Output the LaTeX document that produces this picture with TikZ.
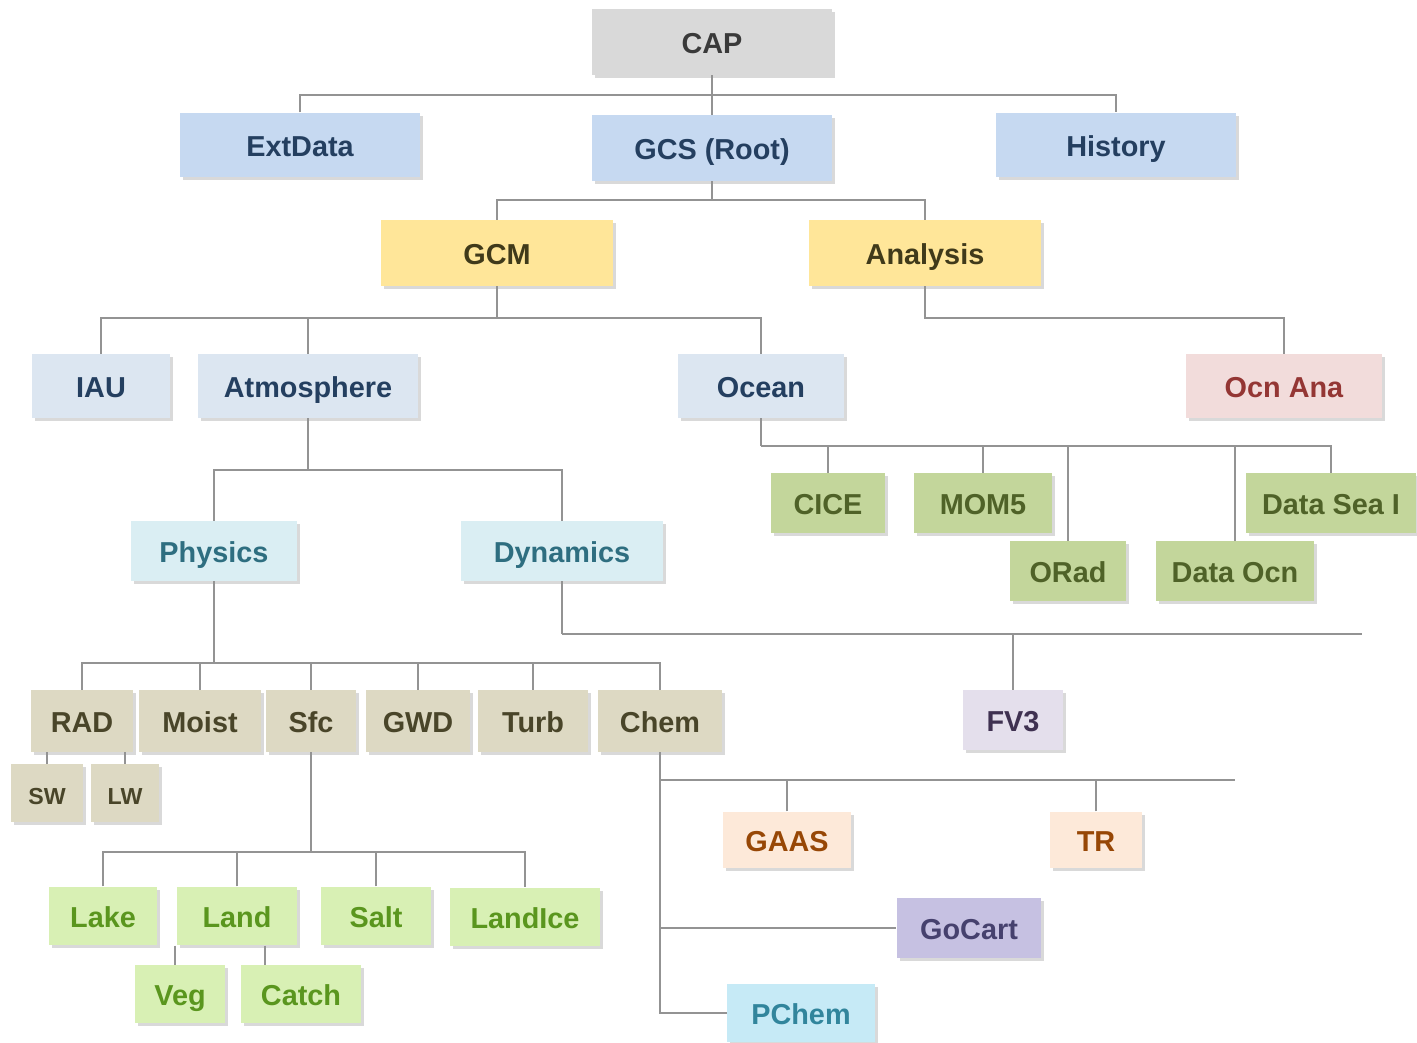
\documentclass[tikz,border=0pt]{standalone}
\usepackage{fontspec}
\setmainfont{Liberation Sans}
\usetikzlibrary{shadows}

\definecolor{capfill}{HTML}{D9D9D9}   \definecolor{captext}{HTML}{3A3A3A}
\definecolor{rootfill}{HTML}{C6D9F1}  \definecolor{roottext}{HTML}{243F60}
\definecolor{gcmfill}{HTML}{FFE699}   \definecolor{gcmtext}{HTML}{403A1A}
\definecolor{compfill}{HTML}{DCE6F1}  \definecolor{comptext}{HTML}{243F60}
\definecolor{anafill}{HTML}{F2DCDB}   \definecolor{anatext}{HTML}{943634}
\definecolor{physfill}{HTML}{DAEEF3}  \definecolor{phystext}{HTML}{2E6E80}
\definecolor{ocnfill}{HTML}{C3D69B}   \definecolor{ocntext}{HTML}{4F6228}
\definecolor{dynfill}{HTML}{E4DFEC}   \definecolor{dyntext}{HTML}{3F3151}
\definecolor{parfill}{HTML}{DDD9C3}   \definecolor{partext}{HTML}{494529}
\definecolor{sfcfill}{HTML}{D8F0B4}   \definecolor{sfctext}{HTML}{5A961E}
\definecolor{chemfill}{HTML}{FDE9D9}  \definecolor{chemtext}{HTML}{974706}
\definecolor{gocfill}{HTML}{C6C1E2}   \definecolor{goctext}{HTML}{46416E}
\definecolor{pchfill}{HTML}{C6EAF6}   \definecolor{pchtext}{HTML}{31859C}

\begin{document}
\begin{tikzpicture}[x=0.01cm, y=-0.01cm,
		box/.style={rectangle, inner sep=0pt, font=\fontsize{8.2}{10}\selectfont\bfseries,
			text height=1.65ex, text depth=0.45ex,
			drop shadow={shadow xshift=0.03cm, shadow yshift=-0.03cm, opacity=0.3}},
		link/.style={draw=gray!85, line width=0.5pt}]

	\useasboundingbox (0,0) rectangle (1417,1043);

	% ===== top level =====
	\node[box, fill=capfill, text=captext, minimum width=2.4cm, minimum height=0.65cm] (cap) at (712,42) {CAP};
	\node[box, fill=rootfill, text=roottext, minimum width=2.4cm, minimum height=0.64cm] (ext) at (300,145) {ExtData};
	\node[box, fill=rootfill, text=roottext, minimum width=2.4cm, minimum height=0.65cm] (gcs) at (712,148) {GCS (Root)};
	\node[box, fill=rootfill, text=roottext, minimum width=2.4cm, minimum height=0.64cm] (hist) at (1116,145) {History};

	\node[box, fill=gcmfill, text=gcmtext, minimum width=2.32cm, minimum height=0.65cm] (gcm) at (497,253) {GCM};
	\node[box, fill=gcmfill, text=gcmtext, minimum width=2.32cm, minimum height=0.65cm] (ana) at (925,253) {Analysis};

	% ===== components =====
	\node[box, fill=compfill, text=comptext, minimum width=1.38cm, minimum height=0.63cm] (iau) at (101,386) {IAU};
	\node[box, fill=compfill, text=comptext, minimum width=2.19cm, minimum height=0.63cm] (atm) at (308,386) {Atmosphere};
	\node[box, fill=compfill, text=comptext, minimum width=1.66cm, minimum height=0.63cm] (ocn) at (761,386) {Ocean};
	\node[box, fill=anafill, text=anatext, minimum width=1.95cm, minimum height=0.63cm] (ocnana) at (1284,386) {Ocn Ana};

	\node[box, fill=physfill, text=phystext, minimum width=1.65cm, minimum height=0.59cm] (phys) at (214,551) {Physics};
	\node[box, fill=physfill, text=phystext, minimum width=2.01cm, minimum height=0.59cm] (dyn) at (562,551) {Dynamics};

	% ===== ocean children =====
	\node[box, fill=ocnfill, text=ocntext, minimum width=1.13cm, minimum height=0.59cm] (cice) at (828,503) {CICE};
	\node[box, fill=ocnfill, text=ocntext, minimum width=1.37cm, minimum height=0.59cm] (mom) at (983,503) {MOM5};
	\node[box, fill=ocnfill, text=ocntext, minimum width=1.15cm, minimum height=0.59cm] (orad) at (1068,571) {ORad};
	\node[box, fill=ocnfill, text=ocntext, minimum width=1.57cm, minimum height=0.59cm] (docn) at (1235,571) {Data Ocn};
	\node[box, fill=ocnfill, text=ocntext, minimum width=1.69cm, minimum height=0.59cm] (dsea) at (1331,503) {Data Sea I};

	\node[box, fill=dynfill, text=dyntext, minimum width=1.0cm, minimum height=0.59cm] (fv3) at (1013,720) {FV3};

	% ===== physics children =====
	\node[box, fill=parfill, text=partext, minimum width=1.02cm, minimum height=0.61cm] (rad) at (82,721) {RAD};
	\node[box, fill=parfill, text=partext, minimum width=1.21cm, minimum height=0.61cm] (moist) at (200,721) {Moist};
	\node[box, fill=parfill, text=partext, minimum width=0.89cm, minimum height=0.61cm] (sfc) at (311,721) {Sfc};
	\node[box, fill=parfill, text=partext, minimum width=1.03cm, minimum height=0.61cm] (gwd) at (418,721) {GWD};
	\node[box, fill=parfill, text=partext, minimum width=1.10cm, minimum height=0.61cm] (turb) at (533,721) {Turb};
	\node[box, fill=parfill, text=partext, minimum width=1.24cm, minimum height=0.61cm] (chem) at (660,721) {Chem};

	\node[box, fill=parfill, text=partext, minimum width=0.72cm, minimum height=0.57cm,
		font=\fontsize{6.6}{8}\selectfont\bfseries] (sw) at (47,793) {SW};
	\node[box, fill=parfill, text=partext, minimum width=0.68cm, minimum height=0.57cm,
		font=\fontsize{6.6}{8}\selectfont\bfseries] (lw) at (125,793) {LW};

	% ===== surface children =====
	\node[box, fill=sfcfill, text=sfctext, minimum width=1.07cm, minimum height=0.58cm] (lake) at (103,916) {Lake};
	\node[box, fill=sfcfill, text=sfctext, minimum width=1.19cm, minimum height=0.58cm] (land) at (237,916) {Land};
	\node[box, fill=sfcfill, text=sfctext, minimum width=1.10cm, minimum height=0.58cm] (salt) at (376,916) {Salt};
	\node[box, fill=sfcfill, text=sfctext, minimum width=1.49cm, minimum height=0.58cm] (lice) at (525,917) {LandIce};
	\node[box, fill=sfcfill, text=sfctext, minimum width=0.90cm, minimum height=0.57cm] (veg) at (180,994) {Veg};
	\node[box, fill=sfcfill, text=sfctext, minimum width=1.20cm, minimum height=0.57cm] (catch) at (301,994) {Catch};

	% ===== chemistry children =====
	\node[box, fill=chemfill, text=chemtext, minimum width=1.27cm, minimum height=0.56cm] (gaas) at (787,840) {GAAS};
	\node[box, fill=chemfill, text=chemtext, minimum width=0.91cm, minimum height=0.56cm] (tr) at (1096,840) {TR};
	\node[box, fill=gocfill, text=goctext, minimum width=1.44cm, minimum height=0.60cm] (gocart) at (969,928) {GoCart};
	\node[box, fill=pchfill, text=pchtext, minimum width=1.47cm, minimum height=0.58cm] (pchem) at (801,1013) {PChem};

	% ===== bus points =====
	\coordinate (b1) at (712,95);
	\coordinate (b2) at (712,200);
	\coordinate (b3) at (497,318);
	\coordinate (b4) at (308,470);
	\coordinate (b5) at (761,446);
	\coordinate (b6) at (562,634);
	\coordinate (b6end) at (1362,634);
	\coordinate (b7) at (214,663);
	\coordinate (b8) at (311,852);
	\coordinate (b9) at (660,780);
	\coordinate (b9end) at (1235,780);

	% ===== connectors =====
	\draw[link] (cap) -- (gcs);
	\draw[link] (ext.north) |- (b1) -| (hist.north);
	\draw[link] (gcs) -- (b2);
	\draw[link] (gcm.north) |- (b2) -| (ana.north);
	\draw[link] (gcm) -- (b3);
	\draw[link] (iau.north) |- (b3) -| (ocn.north);
	\draw[link] (atm.north) -- (atm.north |- b3);
	\draw[link] (ana.south) |- (ocnana.north |- b3) -- (ocnana.north);

	\draw[link] (atm) -- (b4);
	\draw[link] (phys.north) |- (b4) -| (dyn.north);

	\draw[link] (ocn) -- (b5);
	\draw[link] (b5) -| (dsea.north);
	\foreach \c in {cice, mom, orad, docn}
		\draw[link] (\c.north) -- (\c.north |- b5);

	\draw[link] (dyn) -- (b6);
	\draw[link] (b6) -- (b6end);
	\draw[link] (fv3.north) -- (fv3.north |- b6);

	\draw[link] (phys) -- (b7);
	\draw[link] (rad.north) |- (b7) -| (chem.north);
	\foreach \c in {moist, sfc, gwd, turb}
		\draw[link] (\c.north) -- (\c.north |- b7);
	\draw[link] (sw.north) -- (sw.north |- rad.south);
	\draw[link] (lw.north) -- (lw.north |- rad.south);

	\draw[link] (sfc) -- (b8);
	\draw[link] (lake.north) |- (b8) -| (lice.north);
	\draw[link] (land.north) -- (land.north |- b8);
	\draw[link] (salt.north) -- (salt.north |- b8);
	\draw[link] ([xshift=-0.62cm]land.south) coordinate (vg) -- (vg |- veg.north);
	\draw[link] ([xshift=0.28cm]land.south) coordinate (ct) -- (ct |- catch.north);

	\draw[link] (chem.south) -- (chem.south |- pchem) -- (pchem);
	\draw[link] (b9) -- (b9end);
	\draw[link] (gaas.north) -- (gaas.north |- b9);
	\draw[link] (tr.north) -- (tr.north |- b9);
	\draw[link] (chem.south |- gocart) -- (gocart);
\end{tikzpicture}
\end{document}
